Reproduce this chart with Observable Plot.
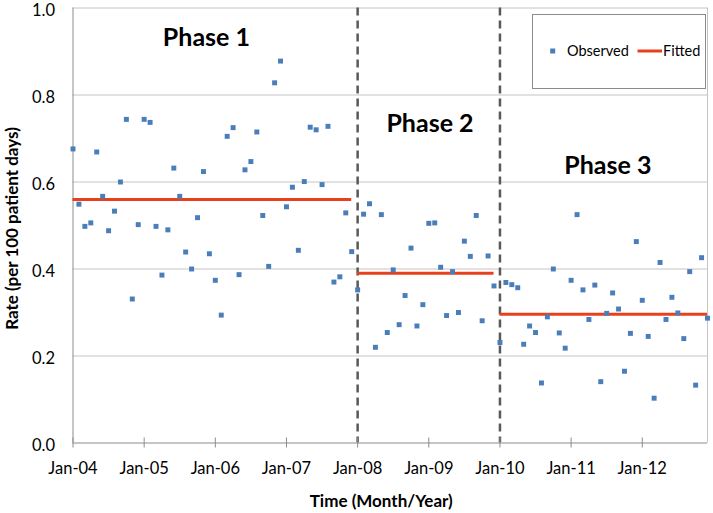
<!DOCTYPE html>
<html>
<head>
<meta charset="utf-8">
<script src="https://cdn.jsdelivr.net/npm/d3@7"></script>
<script src="https://cdn.jsdelivr.net/npm/@observablehq/plot@0.6"></script>
<style>
  html, body { margin: 0; padding: 0; background: #fff; }
  svg { display: block; }
</style>
</head>
<body>
<div id="chart"></div>
<script>
// Observed monthly rates (per 100 patient days), Jan–Dec of each year
const obs2004 = [0.676, 0.549, 0.498, 0.506, 0.669, 0.567, 0.488, 0.533, 0.600, 0.744, 0.331, 0.502];
const obs2005 = [0.744, 0.737, 0.498, 0.386, 0.490, 0.632, 0.567, 0.439, 0.400, 0.518, 0.624, 0.435];
const obs2006 = [0.374, 0.294, 0.705, 0.725, 0.387, 0.628, 0.647, 0.715, 0.523, 0.406, 0.828, 0.878];
const obs2007 = [0.543, 0.588, 0.443, 0.601, 0.726, 0.720, 0.594, 0.728, 0.370, 0.382, 0.529, 0.440];
const obs2008 = [0.352, 0.526, 0.550, 0.220, 0.525, 0.254, 0.398, 0.272, 0.339, 0.448, 0.269, 0.318];
const obs2009 = [0.505, 0.506, 0.404, 0.293, 0.394, 0.300, 0.464, 0.429, 0.523, 0.281, 0.430, 0.361];
const obs2010 = [0.231, 0.369, 0.364, 0.357, 0.227, 0.269, 0.254, 0.138, 0.290, 0.400, 0.253, 0.218];
const obs2011 = [0.374, 0.525, 0.352, 0.284, 0.363, 0.141, 0.298, 0.345, 0.308, 0.165, 0.252, 0.463];
const obs2012 = [0.328, 0.245, 0.103, 0.415, 0.284, 0.335, 0.299, 0.240, 0.394, 0.133, 0.426, 0.287];

// x tick labels (one per January)
const tickLabels = ["Jan-04", "Jan-05", "Jan-06", "Jan-07", "Jan-08", "Jan-09", "Jan-10", "Jan-11", "Jan-12"];
const yTicks = [0.0, 0.2, 0.4, 0.6, 0.8, 1.0];

// Phases: fitted level, first and last month index (0 = Jan-04)
const phaseNames = ["Phase 1", "Phase 2", "Phase 3"];
const phaseStartMonth = [0, 48, 72];
const phaseEndMonth = [47, 71, 107];
const fittedRate = [0.560, 0.390, 0.296];
const phaseBreakMonths = [48, 72];

// Annotation anchors (data units) for phase titles
const phaseLabelMonth = [22.5, 60.2, 90.2];
const phaseLabelRate = [0.93, 0.733, 0.637];

const observed = [].concat(obs2004, obs2005, obs2006, obs2007, obs2008, obs2009, obs2010, obs2011, obs2012);
const obsData = observed.map((v, i) => ({month: i, rate: v}));
const xTicks = tickLabels.map((_, i) => i * 12);
const fitted = phaseNames.map((p, i) => ({phase: p, x1: phaseStartMonth[i], x2: phaseEndMonth[i], y: fittedRate[i]}));

const blue = "#4a7ebb";
const red = "#e8401c";
const axisGray = "#8c8c8c";
const gridGray = "#c4c4c4";

const chart = Plot.plot({
  width: 713,
  height: 513,
  marginLeft: 72.5,
  marginRight: 6,
  marginTop: 7.5,
  marginBottom: 70.5,
  style: {fontFamily: "Lato, 'Open Sans', sans-serif", fontSize: "16px", background: "#fff", color: "#000"},
  x: {domain: [0, 107], axis: null},
  y: {domain: [0, 1], axis: null},
  marks: [
    Plot.gridY(yTicks.slice(1), {stroke: gridGray, strokeOpacity: 1}),
    Plot.ruleX([107], {stroke: gridGray}),
    Plot.ruleX(phaseBreakMonths, {stroke: "#595959", strokeWidth: 2.5, strokeDasharray: "8,5"}),
    Plot.ruleX([0], {stroke: axisGray}),
    Plot.ruleY([0], {stroke: axisGray}),
    Plot.ruleX(xTicks, {x: d => d, y1: 0, y2: 0, insetTop: -5, insetBottom: -5, stroke: axisGray}),
    Plot.axisY({ticks: yTicks, tickSize: 0, tickPadding: 18, dy: 2.5, tickFormat: d3.format(".1f"), label: null, fontSize: 16.5}),
    Plot.axisX({ticks: xTicks, tickSize: 0, tickPadding: 19, tickFormat: d => tickLabels[Math.round(d / 12)], label: null, fontSize: 16.5}),
    Plot.ruleY(fitted, {y: "y", x1: "x1", x2: "x2", stroke: red, strokeWidth: 3}),
    Plot.dot(obsData, {x: "month", y: "rate", symbol: "square", r: 2.8, fill: blue, stroke: null}),
    Plot.text(phaseNames, {x: (d, i) => phaseLabelMonth[i], y: (d, i) => phaseLabelRate[i], text: d => d,
      fontWeight: "bold", fontSize: 25, lineAnchor: "middle"}),
    Plot.text(["Time (Month/Year)"], {frameAnchor: "bottom", lineAnchor: "middle", dy: 59, dx: -9,
      fontWeight: "bold", fontSize: 17}),
    Plot.text(["Rate (per 100 patient days)"], {frameAnchor: "left", rotate: -90, textAnchor: "middle", lineAnchor: "middle",
      dx: -60.5, dy: 3, fontWeight: "bold", fontSize: 17})
  ]
});

// Legend box drawn inside the plot area, as in the original
const svg = d3.select(chart);
const lg = svg.append("g")
  .attr("font-family", "Lato, 'Open Sans', sans-serif")
  .attr("font-size", 14.5)
  .attr("text-anchor", "start");
lg.append("rect").attr("x", 532.5).attr("y", 14.5).attr("width", 173).attr("height", 74)
  .attr("fill", "#fff").attr("stroke", axisGray);
lg.append("rect").attr("x", 550.2).attr("y", 48.5).attr("width", 5).attr("height", 5).attr("fill", blue);
lg.append("text").attr("x", 567).attr("y", 51).attr("dy", "0.35em").attr("text-anchor", "start").text("Observed");
lg.append("line").attr("x1", 637.5).attr("x2", 662).attr("y1", 51).attr("y2", 51)
  .attr("stroke", red).attr("stroke-width", 3);
lg.append("text").attr("x", 663).attr("y", 51).attr("dy", "0.35em").attr("text-anchor", "start").text("Fitted");

document.getElementById("chart").appendChild(chart);
</script>
</body>
</html>
